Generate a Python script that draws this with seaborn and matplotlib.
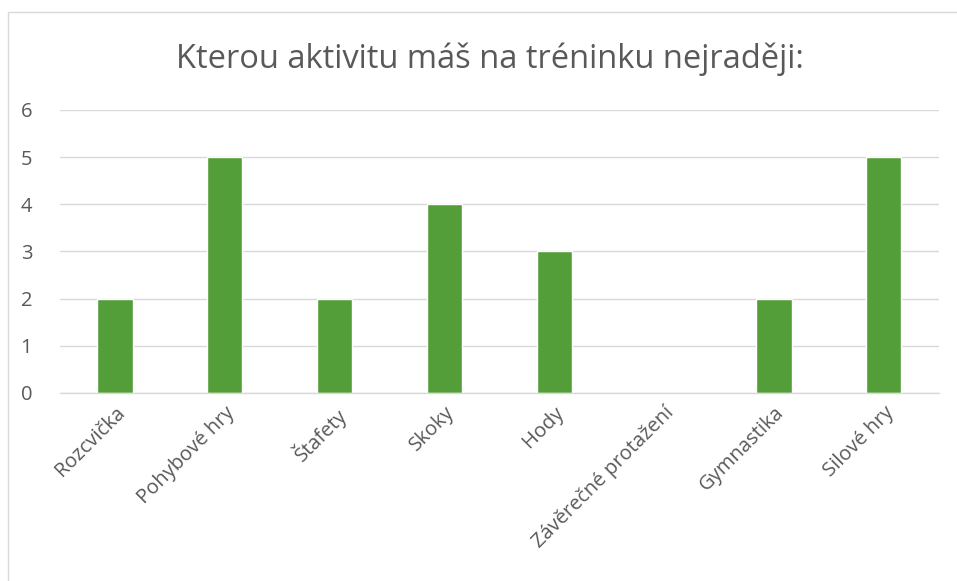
import matplotlib
matplotlib.use('Agg')
import matplotlib.pyplot as plt
import seaborn as sns
import pandas as pd
from matplotlib.patches import Rectangle

# data
activities = ['Rozcvička', 'Pohybové hry', 'Štafety', 'Skoky', 'Hody',
              'Závěrečné protažení', 'Gymnastika', 'Silové hry']
counts = [2, 5, 2, 4, 3, 0, 2, 5]
title = 'Kterou aktivitu máš na tréninku nejraději:'

df = pd.DataFrame({'aktivita': activities, 'pocet': counts})

sns.set_theme(style='white')
plt.rcParams['font.family'] = ['Open Sans', 'DejaVu Sans']

fig = plt.figure(figsize=(9.57, 5.81), dpi=100)
ax = fig.add_axes([0.0627, 0.3236, 0.9183, 0.4871])

sns.barplot(data=df, x='aktivita', y='pocet', color='#549E39',
            width=0.32, saturation=1, ax=ax)

ax.set_ylim(0, 6)
ax.set_xlim(-0.5, len(activities) - 0.5)
ax.set_yticks(range(0, 7))
ax.yaxis.grid(True, color='#D9D9D9', linewidth=1)
ax.set_axisbelow(True)
for s in ['top', 'right', 'left']:
    ax.spines[s].set_visible(False)
ax.spines['bottom'].set_color('#D9D9D9')
ax.spines['bottom'].set_linewidth(1)
ax.tick_params(axis='both', length=0, colors='#595959', labelsize=14.5)
ax.tick_params(axis='y', pad=20)
ax.set_xticks(range(len(activities)))
ax.set_xticklabels(activities, rotation=45, ha='right', rotation_mode='anchor')
ax.tick_params(axis='x', pad=7)
ax.set_xlabel('')
ax.set_ylabel('')

fig.text(0.512, 0.898, title, ha='center', va='center', fontsize=23.5, color='#595959')

# chart frame
fig.patches.append(Rectangle((8 / 957, -0.05), 1.2, 1.05 - 12 / 581,
                             transform=fig.transFigure, fill=False,
                             edgecolor='#D9D9D9', linewidth=1))

fig.savefig('out.png', dpi=100)
